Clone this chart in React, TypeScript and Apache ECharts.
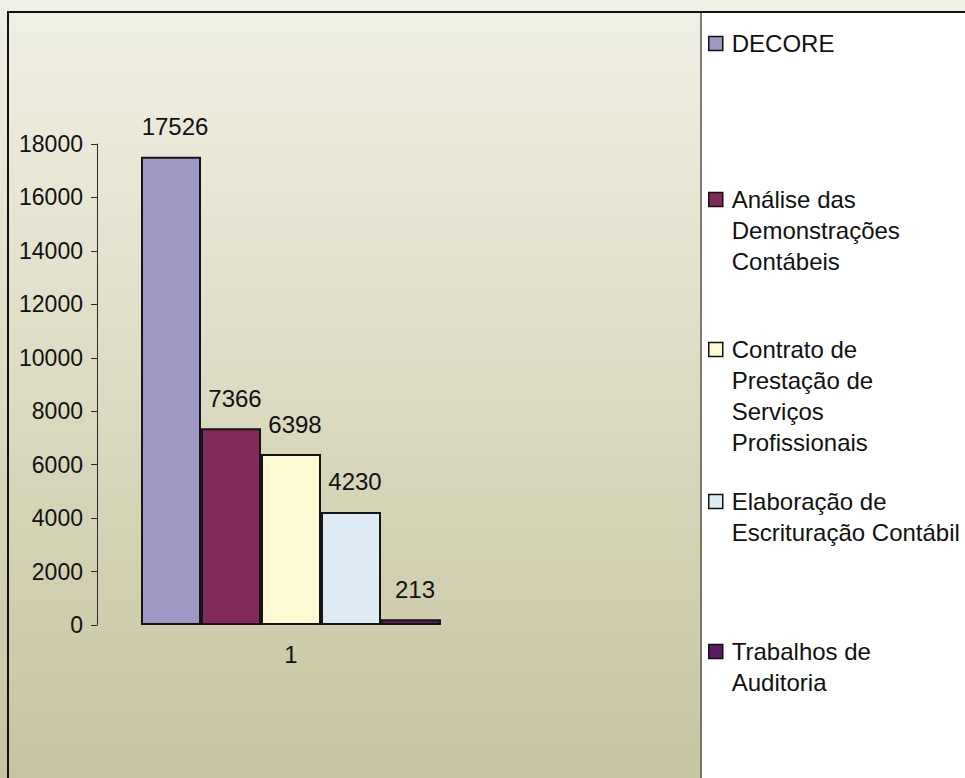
import React, { useEffect, useRef } from "react";
import * as echarts from "echarts";

const categories = ["1"];
const seriesNames = [
  "DECORE",
  "Análise das Demonstrações Contábeis",
  "Contrato de Prestação de Serviços Profissionais",
  "Elaboração de Escrituração Contábil",
  "Trabalhos de Auditoria",
];
const legendLabels = [
  "DECORE",
  "Análise das\nDemonstrações\nContábeis",
  "Contrato de\nPrestação de\nServiços\nProfissionais",
  "Elaboração de\nEscrituração Contábil",
  "Trabalhos de\nAuditoria",
];
const seriesValues = [17526, 7366, 6398, 4230, 213];
const seriesColors = ["#9e98c4", "#822a5a", "#fdf9d3", "#e0ecf5", "#5c1a60"];
const yTicks = { min: 0, max: 18000, interval: 2000 };
const legendIconTops = [33, 189, 339, 491, 641];

const FONT = 'Arial, "Liberation Sans", sans-serif';

export default function App() {
  const ref = useRef<HTMLDivElement>(null);

  useEffect(() => {
    document.body.style.margin = "0";
    if (!ref.current) return;
    const chart = echarts.init(ref.current, undefined, { renderer: "svg" });

    const lh = 31;
    const iconH = 14;
    const legends = seriesNames.map((name, i) => {
      const lines = legendLabels[i].split("\n");
      const n = lines.length;
      // prepend blank lines so that the first real line sits beside the icon
      const text = "\n".repeat(n - 1) + legendLabels[i];
      const top = legendIconTops[i] - 5 - (n - 1) * lh;
      return {
        orient: "vertical",
        left: 708,
        top,
        padding: 0,
        itemGap: 0,
        itemWidth: 14,
        itemHeight: iconH,
        icon: "rect",
        selectedMode: false,
        data: [name],
        formatter: () => text,
        itemStyle: { borderColor: "#111", borderWidth: 1.5 },
        textStyle: {
          fontFamily: FONT,
          fontSize: 24,
          color: "#111",
          lineHeight: lh,
          padding: [0, 0, 0, 4],
        },
      };
    });

    const option = {
      animation: false,
      textStyle: { fontFamily: FONT },
      graphic: [
        {
          type: "rect",
          shape: { x: 702, y: 13, width: 270, height: 780 },
          style: { fill: "#ffffff" },
          silent: true,
        },
        {
          type: "line",
          shape: { x1: 701, y1: 12, x2: 701, y2: 790 },
          style: { stroke: "#5a5a4e", lineWidth: 1.5 },
          silent: true,
        },
        {
          type: "polyline",
          shape: { points: [[8, 790], [8, 12], [980, 12]] },
          style: { stroke: "#111", lineWidth: 2, fill: null },
          silent: true,
        },
      ],
      legend: legends,
      grid: { left: 97, right: 480, top: 144, bottom: 153, containLabel: false },
      xAxis: {
        type: "category",
        data: categories,
        axisLine: { show: false },
        axisTick: { show: false },
        axisLabel: { fontSize: 24, color: "#111", margin: 17, fontFamily: FONT },
        splitLine: { show: false },
      },
      yAxis: {
        type: "value",
        min: yTicks.min,
        max: yTicks.max,
        interval: yTicks.interval,
        axisLine: { show: true, lineStyle: { color: "#2a2a2a", width: 1 } },
        axisTick: { show: true, length: 6, lineStyle: { color: "#2a2a2a" } },
        axisLabel: {
          fontSize: 23,
          color: "#111",
          margin: 14,
          fontFamily: FONT,
          formatter: (v: number) => String(v),
        },
        splitLine: { show: false },
      },
      series: seriesNames.map((name, i) => ({
        type: "bar",
        name,
        data: [seriesValues[i]],
        barWidth: 60,
        barGap: "0%",
        itemStyle: { color: seriesColors[i], borderColor: "#151515", borderWidth: 2 },
        label: {
          show: true,
          position: "top",
          distance: 18,
          offset: [4, 0],
          fontSize: 24,
          color: "#111",
          fontFamily: FONT,
        },
      })),
    };

    chart.setOption(option as any);
    return () => chart.dispose();
  }, []);

  return (
    <div
      ref={ref}
      style={{
        width: 965,
        height: 778,
        background:
          "linear-gradient(to bottom, #f1f0e6 0%, #e6e4d0 30%, #d8d6ba 60%, #c7c4a1 100%)",
      }}
    />
  );
}
